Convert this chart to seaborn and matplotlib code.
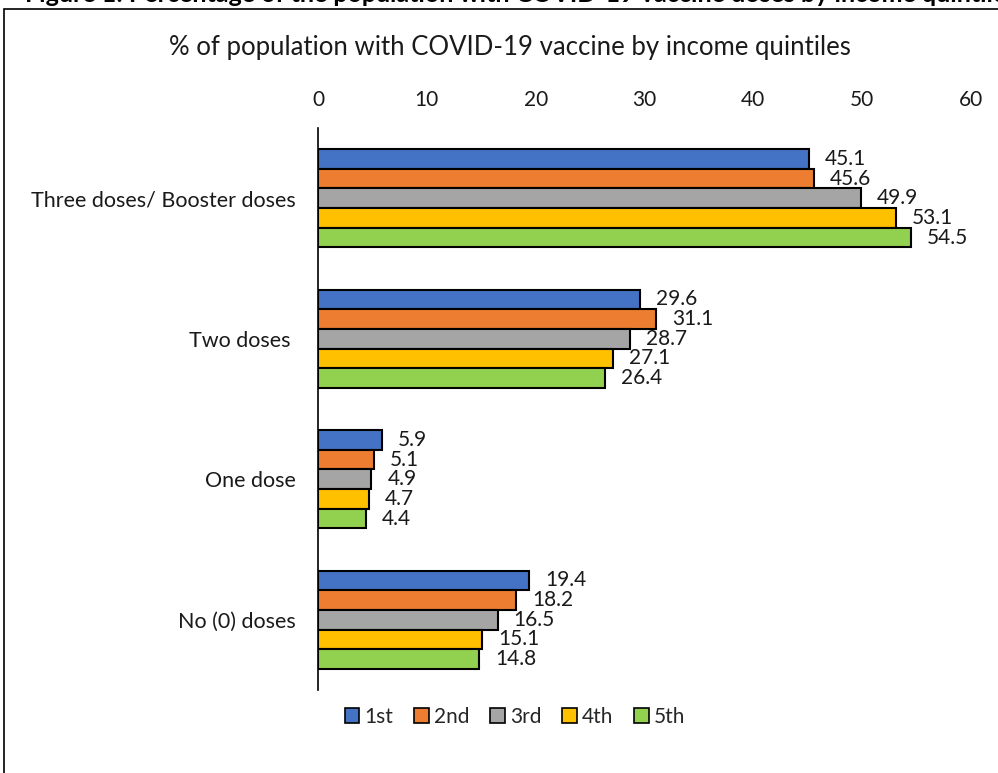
import matplotlib
matplotlib.use("Agg")
import matplotlib.pyplot as plt
import seaborn as sns
import pandas as pd
from matplotlib.patches import Rectangle

categories = ["Three doses/ Booster doses", "Two doses ", "One dose", "No (0) doses"]
quintiles = ["1st", "2nd", "3rd", "4th", "5th"]
values_1st = [45.1, 29.6, 5.9, 19.4]
values_2nd = [45.6, 31.1, 5.1, 18.2]
values_3rd = [49.9, 28.7, 4.9, 16.5]
values_4th = [53.1, 27.1, 4.7, 15.1]
values_5th = [54.5, 26.4, 4.4, 14.8]
colors = ["#4472C4", "#ED7D31", "#A5A5A5", "#FFC000", "#92D050"]
x_ticks = [0, 10, 20, 30, 40, 50, 60]

series = [values_1st, values_2nd, values_3rd, values_4th, values_5th]
rows = []
for q, vals in zip(quintiles, series):
    for c, v in zip(categories, vals):
        rows.append({"category": c, "quintile": q, "value": v})
df = pd.DataFrame(rows)

sns.set_style("white")
plt.rcParams["font.family"] = ["Lato", "DejaVu Sans"]

fig = plt.figure(figsize=(9.98, 7.73), dpi=100)
ax = fig.add_axes([318 / 998, 1 - 690 / 773, (971 - 318) / 998, (690 - 128) / 773])

sns.barplot(data=df, y="category", x="value", hue="quintile", order=categories,
            hue_order=quintiles, palette=colors, orient="h", width=0.7,
            edgecolor="black", linewidth=1.5, saturation=1, ax=ax, legend=True)

# value labels beside each bar
for container in ax.containers:
    ax.bar_label(container, labels=[f"{v:.1f}" for v in container.datavalues],
                 padding=11.5, fontsize=15, color="#1a1a1a")
for t in ax.texts:
    t.set_verticalalignment("center")
    t.set_y(t.get_position()[1] + 0.015)

ax.set_xlim(0, 60)
ax.set_xticks(x_ticks)
ax.xaxis.tick_top()
ax.tick_params(axis="x", length=0, labelsize=15, pad=13, labelcolor="#1a1a1a")
ax.tick_params(axis="y", length=0, labelsize=15.5, pad=16, labelcolor="#1a1a1a")
ax.set_xlabel("")
ax.set_ylabel("")
for side in ["top", "right", "bottom"]:
    ax.spines[side].set_visible(False)
ax.spines["left"].set_color("black")
ax.spines["left"].set_linewidth(1.2)
ax.grid(False)

handles, labels = ax.get_legend_handles_labels()
ax.legend_.remove()
leg = fig.legend(handles, labels, loc="center", bbox_to_anchor=(515 / 998, 1 - 717 / 773),
                 ncol=5, frameon=False, fontsize=15, handlelength=0.7, handleheight=0.7,
                 handletextpad=0.25, columnspacing=1.0)
for h in leg.legend_handles:
    h.set_edgecolor("black")
    h.set_linewidth(1.2)

fig.text(510 / 998, 1 - 48 / 773, "% of population with COVID-19 vaccine by income quintiles",
         ha="center", va="center", fontsize=18.5, color="#1a1a1a")

fig.text(25 / 998, 1 - 2 / 773,
         "Figure 1: Percentage of the population with COVID-19 vaccine doses by income quintile",
         ha="left", va="baseline", fontsize=18, fontweight="bold", color="black")

fig.patches.append(Rectangle((4 / 998, -0.05), 1.2, 1 - 9 / 773 + 0.05,
                             transform=fig.transFigure, fill=False,
                             edgecolor="black", linewidth=1.2))

fig.savefig("out.png", dpi=100)
